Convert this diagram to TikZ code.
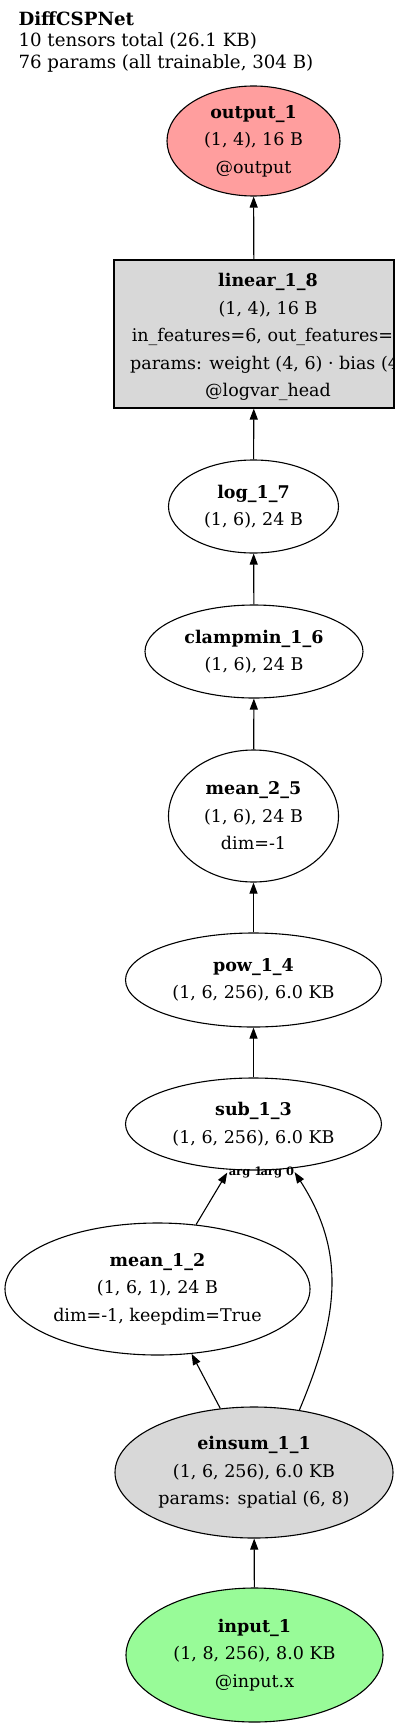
\documentclass[tikz,border=0pt]{standalone}
\usepackage{fontspec}
\setmainfont{DejaVu Serif}
\usepackage{xcolor}
\usepackage{tikz}
\usetikzlibrary{arrows.meta,shapes.geometric}
\definecolor{outc}{RGB}{255,158,158}
\definecolor{inc}{RGB}{152,251,152}
\definecolor{opc}{RGB}{216,216,216}

\begin{document}
\begin{tikzpicture}[x=1pt, y=-1pt, line width=1.1pt,
  every node/.style={font=\fontsize{17.5}{27.5}\selectfont, align=center, inner sep=0pt},
  op/.style={draw, ellipse},
  edge/.style={-{Triangle[length=11pt, width=8pt]}},
  arglbl/.style={font=\fontsize{11.5}{12}\selectfont\bfseries}]
\useasboundingbox (0,0) rectangle (400,1728);
% header
\node[anchor=north west, align=left, font=\fontsize{18.2}{21.5}\selectfont] (hdr) at (18,11)
  {\textbf{DiffCSPNet}\\10 tensors total (26.1 KB)\\76 params (all trainable, 304 B)};
% output and head
\node[op, fill=outc, minimum width=173pt, minimum height=110pt] (outp) at (253.5,141)
  {\textbf{output\_1}\\(1, 4), 16 B\\@output};
\node[draw, fill=opc, minimum width=280pt, minimum height=148pt] (lin) at (254,334) {};
\begin{scope}
\clip (lin.south west) rectangle ([xshift=-0.7pt]lin.north east);
\node (lintxt) at (268,337)
  {\textbf{linear\_1\_8}\\(1, 4), 16 B\\in\_features=6, out\_features=6\\params: weight (4, 6) · bias (4)\\@logvar\_head};
\end{scope}
% chain
\node[op, minimum width=170pt, minimum height=93pt] (log) at (253.5,506.5)
  {\textbf{log\_1\_7}\\(1, 6), 24 B};
\node[op, minimum width=218pt, minimum height=93pt] (clamp) at (254,651.5)
  {\textbf{clampmin\_1\_6}\\(1, 6), 24 B};
\node[op, minimum width=170pt, minimum height=132pt] (mean2) at (253.5,816)
  {\textbf{mean\_2\_5}\\(1, 6), 24 B\\dim=-1};
\node[op, minimum width=256pt, minimum height=94pt] (pow) at (253.5,980)
  {\textbf{pow\_1\_4}\\(1, 6, 256), 6.0 KB};
\node[op, minimum width=256pt, minimum height=92pt] (sub) at (253.5,1124)
  {\textbf{sub\_1\_3}\\(1, 6, 256), 6.0 KB};
\node[op, minimum width=305pt, minimum height=132pt] (mean1) at (157.5,1289)
  {\textbf{mean\_1\_2}\\(1, 6, 1), 24 B\\dim=-1, keepdim=True};
\node[op, fill=opc, minimum width=278pt, minimum height=131pt] (ein) at (254,1472.5)
  {\textbf{einsum\_1\_1}\\(1, 6, 256), 6.0 KB\\params: spatial (6, 8)};
\node[op, fill=inc, minimum width=257pt, minimum height=134pt] (inp) at (254.5,1655)
  {\textbf{input\_1}\\(1, 8, 256), 8.0 KB\\@input.x};
% edges
\draw[edge] (lin) -- (outp);
\draw[edge] (log) -- (lin);
\draw[edge] (clamp) -- (log);
\draw[edge] (mean2) -- (clamp);
\draw[edge] (pow) -- (mean2);
\draw[edge] (sub) -- (pow);
\draw[edge] (mean1) -- ([yshift=-3pt]sub.-120) node[arglbl, pos=1, anchor=west, xshift=1pt] (arga) {arg 1};
\draw[edge] (ein.54) .. controls (337,1320) and (348,1255) .. ([yshift=-4pt]sub.-47)
  node[arglbl, pos=1, anchor=east] (argb) {arg 0};
\draw[edge] (ein) -- (mean1);
\draw[edge] (inp) -- (ein);
\end{tikzpicture}
\end{document}
